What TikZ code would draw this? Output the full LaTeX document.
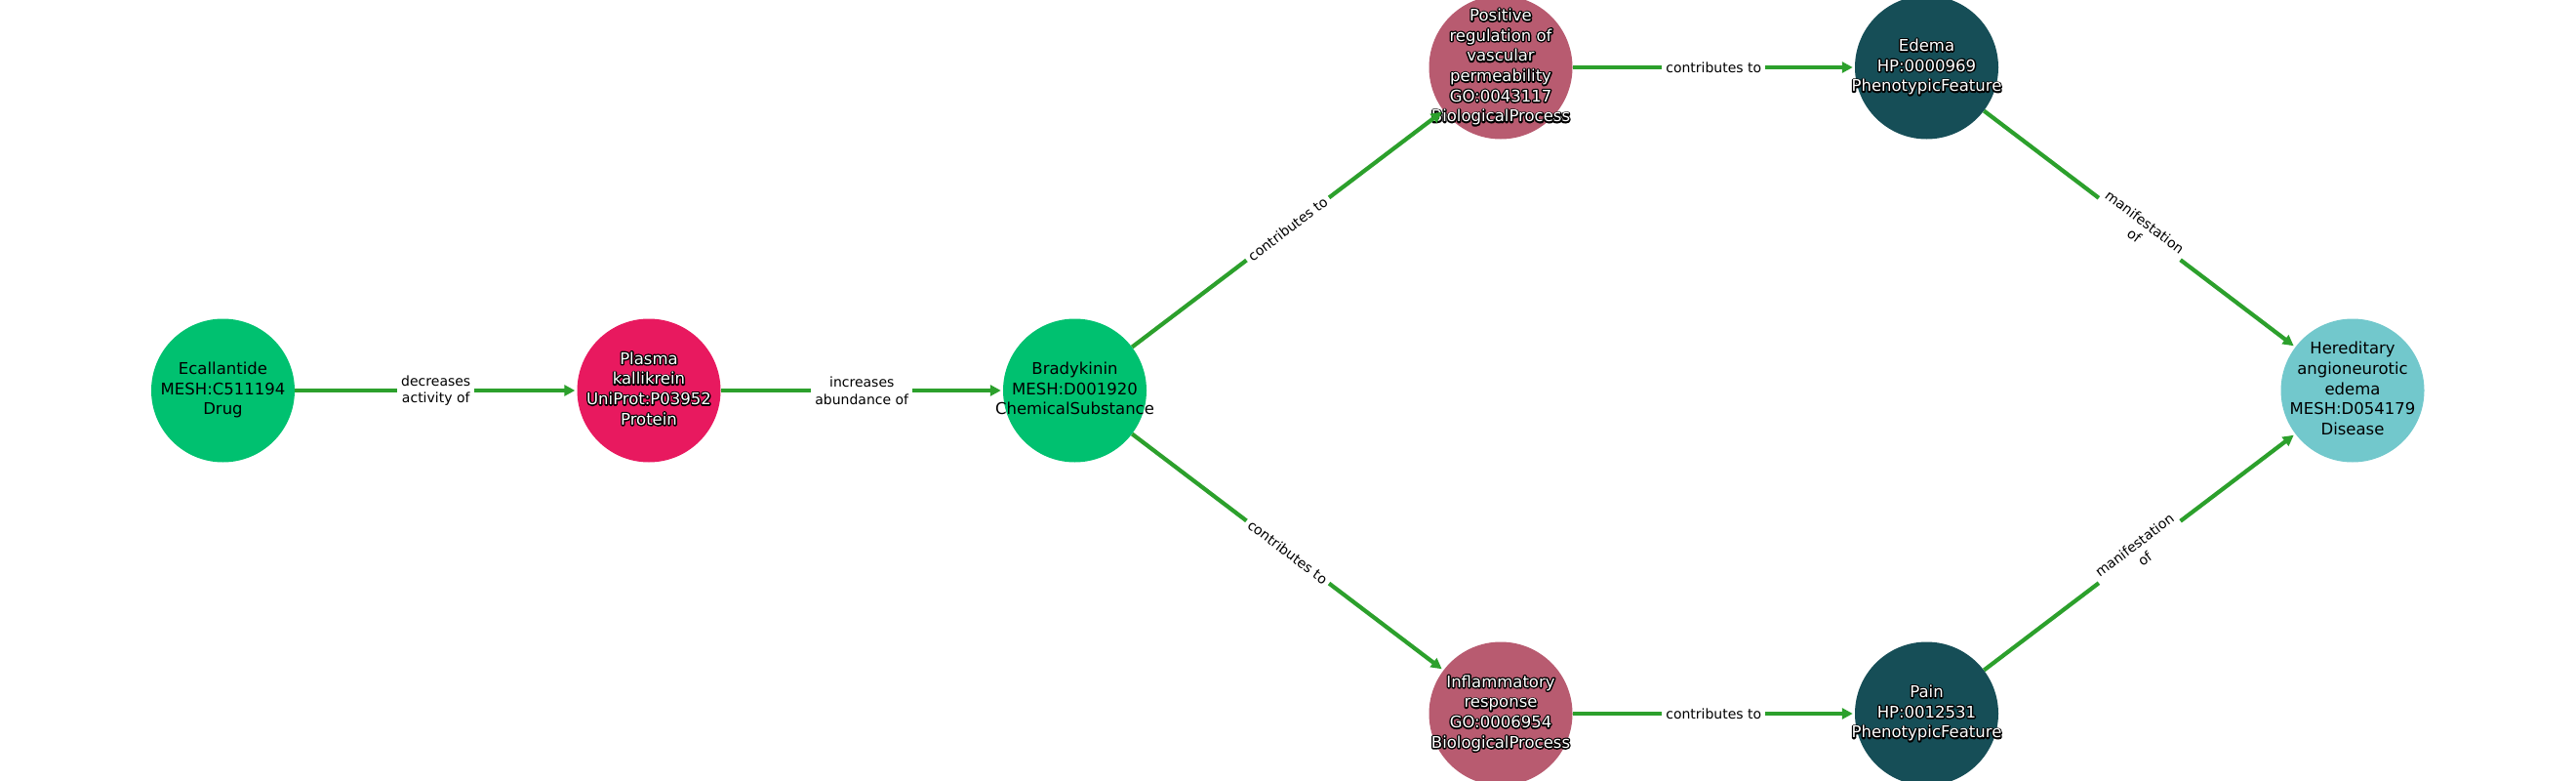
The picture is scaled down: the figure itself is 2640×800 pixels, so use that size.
\documentclass[tikz,border=0pt]{standalone}
\usepackage{fontspec}
\setmainfont{DejaVu Sans}
\usetikzlibrary{arrows.meta}
\definecolor{cgreen}{RGB}{0,193,112}
\definecolor{cpink}{RGB}{232,25,95}
\definecolor{cmauve}{RGB}{184,91,112}
\definecolor{cdteal}{RGB}{22,78,87}
\definecolor{clteal}{RGB}{114,200,204}
\definecolor{cedge}{RGB}{44,160,44}
\newsavebox\olA
\newsavebox\olB
\newcommand\olt[1]{%
  \sbox\olA{\color{black}\special{pdf:literal direct 1 Tr 2.8 w 1 j}\begin{tabular}{@{}c@{}}#1\end{tabular}\special{pdf:literal direct 0 Tr}}%
  \sbox\olB{\color{white}\begin{tabular}{@{}c@{}}#1\end{tabular}}%
  \mbox{\rlap{\usebox\olA}\usebox\olB}}
\newcommand\blt[1]{\begin{tabular}{@{}c@{}}#1\end{tabular}}
\begin{document}
\begin{tikzpicture}[x=1pt,y=-1pt,
  ent/.style={circle, minimum size=147pt, inner sep=0pt, draw=none},
  ntext/.style={font=\fontsize{16.5}{20.7}\selectfont, inner sep=0pt, text=black},
  edge/.style={draw=cedge, line width=4.2pt, -{Triangle[length=11pt,width=11pt]}, shorten >=2pt},
  elab/.style={fill=white, font=\fontsize{14}{17.6}\selectfont, align=center, inner sep=4pt, text=black}]
\useasboundingbox (0,0) rectangle (2640,800);
\clip (0,0) rectangle (2640,800);
\fill[white] (0,0) rectangle (2640,800);

\node[ent, fill=cgreen, label={[ntext, name=ecT]center:{\blt{Ecallantide\\MESH:C511194\\Drug}}}] (ec) at (228.5,400) {};
\node[ent, fill=cpink, label={[ntext, name=pkT]center:{\olt{Plasma\\kallikrein\\UniProt:P03952\\Protein}}}] (pk) at (665,400) {};
\node[ent, fill=cgreen, label={[ntext, name=bkT]center:{\blt{Bradykinin\\MESH:D001920\\ChemicalSubstance}}}] (bk) at (1101.5,400) {};
\node[ent, fill=cmauve, label={[ntext, name=pvT]center:{\olt{Positive\\regulation of\\vascular\\permeability\\GO:0043117\\BiologicalProcess}}}] (pv) at (1538,69) {};
\node[ent, fill=cmauve, label={[ntext, name=irT]center:{\olt{Inflammatory\\response\\GO:0006954\\BiologicalProcess}}}] (ir) at (1538,731) {};
\node[ent, fill=cdteal, label={[ntext, name=edT]center:{\olt{Edema\\HP:0000969\\PhenotypicFeature}}}] (ed) at (1974.5,69) {};
\node[ent, fill=cdteal, label={[ntext, name=paT]center:{\olt{Pain\\HP:0012531\\PhenotypicFeature}}}] (pa) at (1974.5,731) {};
\node[ent, fill=clteal, label={[ntext, name=haT]center:{\blt{Hereditary\\angioneurotic\\edema\\MESH:D054179\\Disease}}}] (ha) at (2411,400) {};

\draw[edge] (ec) -- (pk) node[midway, elab] (l1) {decreases\\activity of};
\draw[edge] (pk) -- (bk) node[midway, elab] (l2) {increases\\abundance of};
\draw[edge] (bk) -- (pv) node[midway, elab, sloped] (l3) {contributes to};
\draw[edge] (bk) -- (ir) node[midway, elab, sloped] (l4) {contributes to};
\draw[edge] (pv) -- (ed) node[midway, elab] (l5) {contributes to};
\draw[edge] (ir) -- (pa) node[midway, elab] (l6) {contributes to};
\draw[edge] (ed) -- (ha) node[midway, elab, sloped] (l7) {manifestation\\of};
\draw[edge] (pa) -- (ha) node[midway, elab, sloped] (l8) {manifestation\\of};
\end{tikzpicture}
\end{document}
